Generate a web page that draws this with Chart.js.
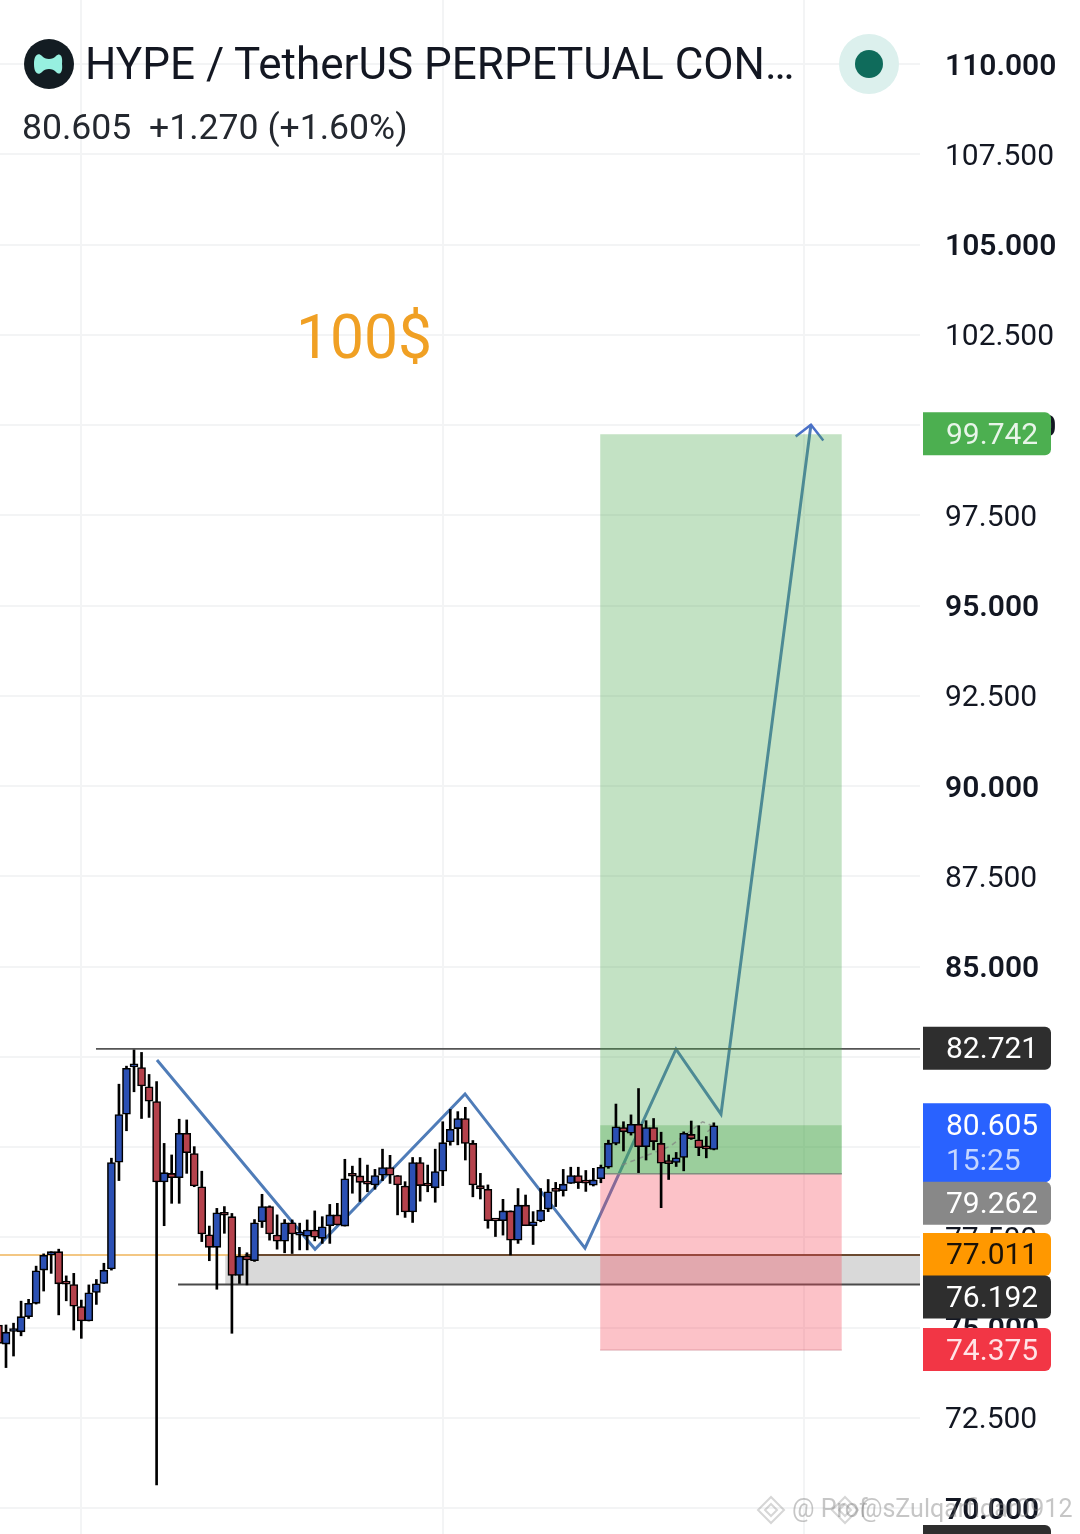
<!DOCTYPE html>
<html>
<head>
	<meta charset="UTF-8">
	<title>HYPE / TetherUS</title>
	<script src="https://cdn.jsdelivr.net/npm/chart.js"></script>
	<style>
	html,body{margin:0; padding:0; background:#fff;}
	body{width:1080px; height:1534px; position:relative; overflow:hidden; font-family:Roboto,sans-serif; color:#131722;}
	canvas{position:absolute; left:0; top:0;}
	.txt{position:absolute; white-space:pre; line-height:1;}
	#title{left:85px; top:42px; font-size:44px;}
	#quote{left:22px; top:110px; font-size:35.6px; color:#24282f;}
	#target{left:296px; top:308px; font-size:60.5px; color:#f0a024;}
	svg{position:absolute; left:0; top:0;}
	</style>
</head>
<body>
	<canvas id="myChart" width="1080" height="1534"></canvas>
	<svg width="1080" height="140">
		<circle cx="49" cy="64" r="25" fill="#131c22"/>
		<path d="M34 64 C34 55 38 52 42 56 C45 60 53 60 56 56 C60 52 63 56 62 64 C63 72 60 76 56 72 C53 68 45 68 42 72 C38 76 34 73 34 64 Z" fill="#97f0e0"/>
		<circle cx="869" cy="64" r="30" fill="#dcf0ed"/>
		<circle cx="869" cy="64" r="14" fill="#0f6b5b"/>
	</svg>
	<div class="txt" id="title">HYPE / TetherUS PERPETUAL CON…</div>
	<div class="txt" id="quote">80.605  +1.270 (+1.60%)</div>
	<div class="txt" id="target">100$</div>
	<script>
	// candles (first one is cut by the left edge)
	var open = [75.07,74.54,74.89,74.88,75.30,75.67,76.59,77.01,77.10,76.21,76.19,75.58,75.18,75.97,76.22,76.62,79.58,80.91,82.22,82.20,81.67,81.26,79.03,79.27,79.15,80.38,79.82,78.90,77.57,77.22,78.18,78.07,76.44,76.98,76.85,77.93,78.35,77.56,77.39,77.90,77.56,77.53,77.70,77.47,77.82,78.12,77.81,79.20,79.20,78.98,78.95,79.22,79.43,79.21,78.92,78.20,79.57,78.93,78.87,79.33,80.14,80.51,80.79,80.10,78.93,78.83,77.96,77.96,78.23,77.42,78.39,77.82,77.95,78.28,78.78,78.79,78.99,79.21,79.01,78.94,79.12,79.44,80.10,80.54,80.38,80.63,80.01,80.54,80.10,79.55,79.57,79.71,80.35,80.20,79.96,79.93];
	var high = [75.07,75.07,75.12,75.73,75.78,76.70,77.04,77.10,77.17,76.43,76.50,75.76,76.18,76.33,76.78,79.69,81.74,82.24,82.69,82.62,82.01,81.81,80.10,79.78,80.77,80.75,80.01,79.33,77.81,78.30,78.35,78.16,77.22,77.07,77.99,78.69,78.37,78.12,77.99,77.98,77.89,77.98,78.23,78.07,78.41,78.44,79.66,79.47,79.69,79.50,79.38,79.94,79.77,79.21,79.04,79.71,79.71,79.50,79.94,80.70,81.04,80.98,81.10,80.18,79.27,78.95,77.97,78.55,78.23,78.85,78.67,78.21,78.85,79.10,79.02,79.38,79.44,79.44,79.35,79.41,79.50,80.19,81.19,80.70,80.89,81.62,80.73,80.79,80.41,79.78,79.85,80.42,80.72,80.59,80.29,80.67];
	var low = [74.56,73.89,74.21,74.77,75.25,75.65,76.01,76.50,75.35,75.74,74.93,74.70,75.18,75.64,76.22,76.59,79.07,80.45,81.53,80.79,80.82,70.64,77.82,78.44,78.44,79.27,78.90,77.38,76.85,76.06,77.61,74.84,76.22,76.18,76.83,77.77,77.42,77.17,77.07,77.05,77.15,77.15,77.40,77.33,77.33,77.84,77.81,78.72,78.49,78.76,78.83,79.07,78.99,78.12,78.05,77.91,78.50,78.76,78.47,78.93,80.05,80.06,79.64,78.62,78.56,77.75,77.52,77.56,77.01,77.33,77.82,77.30,77.93,78.21,78.35,78.64,78.99,78.85,78.77,78.92,79.01,79.41,80.06,79.89,80.33,79.29,79.64,79.92,78.32,79.10,79.46,79.34,80.21,79.76,79.70,79.92];
	var close = [74.56,74.87,74.91,75.30,75.67,76.57,77.00,77.10,76.21,76.20,75.59,75.18,75.96,76.21,76.59,79.57,80.90,82.18,82.23,81.69,81.27,79.03,79.29,79.15,80.38,79.84,78.92,77.59,77.22,78.18,78.11,76.44,76.98,76.87,77.90,78.35,77.59,77.39,77.90,77.59,77.57,77.70,77.50,77.79,78.12,77.84,79.12,79.19,79.02,78.97,79.21,79.43,79.22,78.95,78.20,79.57,78.93,78.92,79.32,80.12,80.49,80.79,80.10,78.95,78.84,77.96,77.95,78.23,77.42,78.39,77.82,77.93,78.25,78.76,78.77,78.97,79.21,79.01,79.00,79.09,79.44,80.10,80.56,80.42,80.63,80.01,80.54,80.15,79.55,79.54,79.70,80.38,80.23,79.98,79.95,80.59];

	var tickValues = [110,107.5,105,102.5,100,97.5,95,92.5,90,87.5,85,82.5,80,77.5,75,72.5,70];
	var timeLines = [10,58,106];

	// drawn levels
	var resistance = 82.721;
	var lastPrice = 80.605;
	var entry = 79.262;
	var takeProfit = 99.742;
	var stopLoss = 74.375;
	var zoneTop = 77.011;
	var zoneBottom = 76.192;

	// hand drawn path
	var pathX = [20.05,41.04,60.96,76.89,88.98,94.95,106.9];
	var pathY = [82.41,77.17,81.47,77.20,82.71,80.91,100.01];
	var headX = [104.87,106.9,108.54];
	var headY = [99.68,100.01,99.57];
	var dashX = [81.8,88.2,92.5,94,93];
	var dashY = [79.5,80.02,80.7,80.57,80.4];

	// price tags
	var tagValues = [takeProfit,resistance,lastPrice,entry,zoneTop,zoneBottom,stopLoss,68.92];
	var tagLabels = ['99.742','82.721','80.605','79.262','77.011','76.192','74.375',''];
	var tagColors = ['#4caf50','#2e2e2e','#2962ff','#888888','#ff9800','#2e2e2e','#f23645','#2e2e2e'];
	var tagText = ['#e8f5e9','#ffffff','#ffffff','#ffffff','#1a1208','#ffffff','#ffe3e6','#ffffff'];
	var tagShift = [0,0,0,30,0,13,0,0];

	var xMin = -0.797, xMax = 121.38;
	var yMin = 69.28, yMax = 111.773;
	var catX = open.map(function(v,i){ return i-1; });

	function hline(a,b,val,color,width,order){
		return {type:'line', data:[{x:a,y:val},{x:b,y:val}], borderColor:color, borderWidth:width, pointRadius:0, order:order};
	}
	function box(a,b,top,bottom,color,order){
		return {type:'line', data:[{x:a,y:top},{x:b,y:top}], borderColor:'rgba(0,0,0,0)', borderWidth:0, pointRadius:0,
			backgroundColor:color, fill:{value:bottom}, order:order};
	}
	function pts(xs,ys){
		return xs.map(function(x,i){ return {x:x,y:ys[i]}; });
	}

	var tagsPlugin = {
		id:'tags',
		afterDraw:function(chart){
			var c = chart.ctx, y = chart.scales.y;
			c.save();
			tagValues.forEach(function(v,i){
				var yc = y.getPixelForValue(v)+tagShift[i];
				var h = i==2 ? 79 : 43;
				c.fillStyle = tagColors[i];
				c.beginPath();
				c.roundRect(923,yc-22,128,h,[0,6,6,0]);
				c.fill();
				c.fillStyle = tagText[i];
				c.font = '30px Roboto';
				c.textAlign = 'left';
				c.textBaseline = 'middle';
				c.fillText(tagLabels[i],946,yc+2);
				if(i==2){
					c.fillStyle = '#c5d6ff';
					c.fillText('15:25',946,yc+37);
				}
			});
			// watermark
			c.fillStyle = 'rgba(120,120,120,0.42)';
			c.strokeStyle = 'rgba(120,120,120,0.3)';
			c.lineWidth = 2;
			[771,845].forEach(function(x){
				[13,6].forEach(function(r){
					c.beginPath();
					c.moveTo(x,1510-r); c.lineTo(x+r,1510); c.lineTo(x,1510+r); c.lineTo(x-r,1510); c.closePath();
					c.stroke();
				});
			});
			c.font = '25px Roboto';
			c.fillText('@ Prof',792,1511);
			c.fillText('@sZulqarfidar0912',860,1511);
			c.restore();
		}
	};

	const ctx = document.getElementById('myChart');
	new Chart(ctx, {
		data: {
			datasets: [
				box(29.1,xMax,zoneTop,zoneBottom,'#d9d9d9',20),
				{type:'line', data:pts(pathX,pathY), borderColor:'#4f7cb8', borderWidth:3, pointRadius:0, order:19},
				{type:'line', data:pts(headX,headY), borderColor:'#4a70c8', borderWidth:2.5, pointRadius:0, order:18},
				hline(xMin,xMax,zoneTop,'rgba(240,185,100,0.8)',2,17),
				hline(31.7,xMax,zoneTop,'#6b4a30',2,16),
				hline(22.85,xMax,zoneBottom,'#4a4a4a',2.2,15),
				hline(11.95,xMax,resistance,'#555555',1.8,14),
				box(78.9,111,takeProfit,entry,'rgba(73,167,76,0.33)',13),
				box(78.9,111,lastPrice,entry,'rgba(73,167,76,0.33)',12),
				box(78.9,111,entry,stopLoss,'rgba(246,70,88,0.33)',11),
				hline(78.9,111,entry,'#7f8f80',1.5,10),
				hline(78.9,111,stopLoss,'rgba(200,120,130,0.6)',1,10),
				{type:'line', data:pts(dashX,dashY), borderColor:'rgba(130,130,130,0.7)', borderWidth:1.5, borderDash:[5,4], pointRadius:0, order:9},
				// wicks under the bodies
				{type:'bar', data:catX.map(function(x,i){ return {x:x,y:[low[i],high[i]]}; }),
					barThickness:2, grouped:false, backgroundColor:'#000', borderWidth:0, order:3},
				{type:'bar', data:catX.map(function(x,i){ return {x:x,y:[open[i],close[i]]}; }),
					barThickness:8, grouped:false, minBarLength:3,
					backgroundColor:catX.map(function(x,i){ return close[i]>=open[i] ? '#2b50b4' : '#b5424c'; }),
					borderColor:'#000', borderWidth:1.6, borderSkipped:false, order:2}
			]
		},
		options: {
			responsive:false,
			animation:false,
			layout:{padding:0},
			plugins:{legend:{display:false}, tooltip:{enabled:false}, title:{display:false}},
			scales: {
				x: {
					type:'linear', min:xMin, max:xMax, offset:false,
					afterBuildTicks:function(s){ s.ticks = timeLines.map(function(v){ return {value:v}; }); },
					afterFit:function(s){ s.height = 0; s.paddingLeft = 0; s.paddingRight = 0; },
					ticks:{display:false},
					grid:{color:'#f3f4f5', lineWidth:2, drawTicks:false, offset:false},
					border:{display:false}
				},
				y: {
					position:'right', min:yMin, max:yMax,
					afterBuildTicks:function(s){ s.ticks = tickValues.map(function(v){ return {value:v}; }); },
					afterFit:function(s){ s.width = 160; s.paddingTop = 0; s.paddingBottom = 0; },
					ticks:{
						autoSkip:false, padding:25, labelOffset:3, crossAlign:'near', color:'#131722',
						font:function(c){ return {family:'Roboto', size:30, weight:(c.tick && c.tick.value%5==0) ? '600' : '400'}; },
						callback:function(v){ return Number(v).toFixed(3); }
					},
					grid:{color:'#f3f4f5', lineWidth:2, drawTicks:false},
					border:{display:false}
				}
			}
		},
		plugins:[tagsPlugin]
	});
	</script>
</body>
</html>
